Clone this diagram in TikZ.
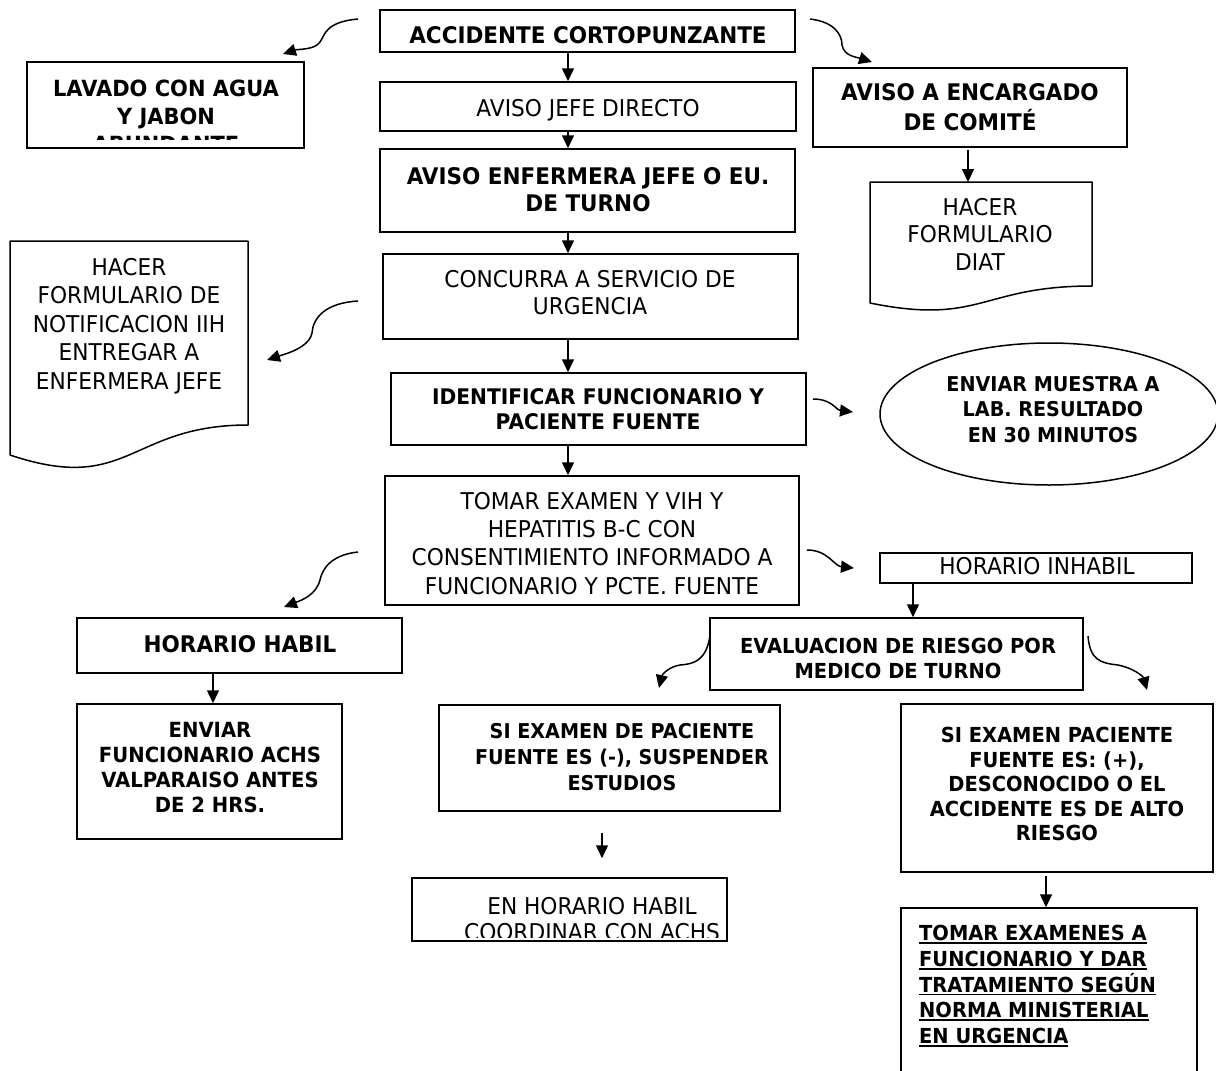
\documentclass[tikz,border=0pt]{standalone}
\usepackage{fontspec}
\setmainfont{DejaVu Sans}[FakeStretch=0.94]
\usetikzlibrary{arrows.meta,fit,calc,shapes.geometric}
\newsavebox\ulbox
\newcommand\ulx[1]{\sbox\ulbox{#1}\rlap{\rule[-3.2pt]{\wd\ulbox}{1.8pt}}\usebox\ulbox}
\tikzset{
  box/.style={draw, line width=1.5pt, inner sep=0pt},
  txt/.style={inner sep=0pt, align=center, anchor=north},
  reg/.style={font=\fontsize{23.1}{28}\selectfont},
  bigb/.style={font=\fontsize{22.9}{27}\selectfont\bfseries},
  smb/.style={font=\fontsize{20.9}{25}\selectfont\bfseries},
  arr/.style={line width=1.5pt, -{Triangle[length=13pt,width=12pt]}},
  docshape/.style={draw, line width=1.5pt, line join=round}
}
\begin{document}
\begin{tikzpicture}[x=1pt,y=-1pt]
\useasboundingbox (0,0) rectangle (1216,1071);
\fill[white] (0,0) rectangle (1216,1071);

% ---- central column boxes
\node[box, fit={(380,10) (795,52)}] (acc) {};
\node[txt, bigb] (tacc) at (588,26) {ACCIDENTE CORTOPUNZANTE};
\node[box, fit={(380,82) (796,131)}] (jefe) {};
\node[txt, reg] (tjefe) at (588,99) {AVISO JEFE DIRECTO};
\node[box, fit={(380,149) (795,232)}] (enf) {};
\node[txt, bigb] (tenf) at (588,167) {AVISO ENFERMERA JEFE O EU.\\DE TURNO};
\node[box, fit={(383,254) (798,339)}] (conc) {};
\node[txt, font=\fontsize{23.1}{27}\selectfont] (tconc) at (590,270) {CONCURRA A SERVICIO DE\\URGENCIA};
\node[box, fit={(391,373) (806,445)}] (ident) {};
\node[txt, font=\fontsize{21.5}{25}\selectfont\bfseries] (tident) at (598,388) {IDENTIFICAR FUNCIONARIO Y\\PACIENTE FUENTE};
\node[box, fit={(385,476) (799,605)}] (tomar) {};
\node[txt, font=\fontsize{23.1}{28.3}\selectfont] (ttomar) at (592,492) {TOMAR EXAMEN Y VIH Y\\HEPATITIS B-C CON\\CONSENTIMIENTO INFORMADO A\\FUNCIONARIO Y PCTE. FUENTE};

% ---- top left
\node[box, fit={(27,62) (304,148)}] (lav) {};
\begin{scope}
\clip (27,62) rectangle (304,139);
\node[txt, font=\fontsize{22.3}{28}\selectfont\bfseries] (tlav) at (166,80) {LAVADO CON AGUA\\Y JABON\\ABUNDANTE};
\end{scope}

% ---- top right
\node[box, fit={(813,68) (1127,147)}] (encarg) {};
\node[txt, font=\fontsize{22.9}{30}\selectfont\bfseries] (tencarg) at (970,83) {AVISO A ENCARGADO\\DE COMITÉ};
\draw[docshape] (870,182) -- (1092,182) -- (1092,286) .. controls (981,286) and (981,325.6) .. (870,303) -- cycle;
\coordinate (diattop) at (968,182);
\node[txt, font=\fontsize{23.1}{27.5}\selectfont] (tdiat) at (980,198) {HACER\\FORMULARIO\\DIAT};

% ---- left document
\draw[docshape] (10,241) -- (248,241) -- (248,425) .. controls (129,425) and (129,495) .. (10,455) -- cycle;
\node[txt, font=\fontsize{23.1}{28.5}\selectfont] (tnotif) at (129,258) {HACER\\FORMULARIO DE\\NOTIFICACION IIH\\ENTREGAR A\\ENFERMERA JEFE};

% ---- ellipse
\node[draw, ellipse, line width=1.5pt, minimum width=338pt, minimum height=142pt, inner sep=0pt] (lab) at (1049,414) {};
\node[txt, font=\fontsize{20.4}{25.5}\selectfont\bfseries] (tlab) at (1053,376) {ENVIAR MUESTRA A\\LAB. RESULTADO\\EN 30 MINUTOS};

% ---- lower left
\node[box, fit={(77,618) (402,673)}] (habil) {};
\node[txt, bigb] (thabil) at (240,635) {HORARIO HABIL};
\node[box, fit={(77,704) (342,839)}] (enviar) {};
\node[txt, smb] (tenviar) at (210,722) {ENVIAR\\FUNCIONARIO ACHS\\VALPARAISO ANTES\\DE 2 HRS.};

% ---- lower right
\node[box, fit={(880,553) (1192,583)}] (inhabil) {};
\node[txt, reg] (tinhabil) at (1037,557) {HORARIO INHABIL};
\node[box, fit={(710,618) (1083,690)}] (eval) {};
\node[txt, font=\fontsize{20.7}{25}\selectfont\bfseries] (teval) at (898,638) {EVALUACION DE RIESGO POR\\MEDICO DE TURNO};
\node[box, fit={(439,705) (780,811)}] (sineg) {};
\node[txt, font=\fontsize{20.4}{26}\selectfont\bfseries] (tsineg) at (622,723) {SI EXAMEN DE PACIENTE\\FUENTE ES (-), SUSPENDER\\ESTUDIOS};
\node[box, fit={(412,878) (727,941)}] (enhor) {};
\begin{scope}
\clip (412,878) rectangle (727,937);
\node[txt, font=\fontsize{23.1}{26}\selectfont] (tenhor) at (592,897) {EN HORARIO HABIL\\COORDINAR CON ACHS};
\end{scope}
\node[box, fit={(901,704) (1213,872)}] (sipos) {};
\node[txt, font=\fontsize{20.7}{24.5}\selectfont\bfseries] (tsipos) at (1057,727) {SI EXAMEN PACIENTE\\FUENTE ES: (+),\\DESCONOCIDO O EL\\ACCIDENTE ES DE ALTO\\RIESGO};
\node[box, fit={(901,908) (1197,1100)}] (tomex) {};
\node[inner sep=0pt, align=left, anchor=north west, font=\fontsize{20.7}{25.8}\selectfont\bfseries] (ttomex) at (919,925) {\ulx{TOMAR EXAMENES A}\\\ulx{FUNCIONARIO Y DAR}\\\ulx{TRATAMIENTO SEGÚN}\\\ulx{NORMA MINISTERIAL}\\\ulx{EN URGENCIA}};

% ---- straight connectors
\coordinate (c1) at (568,0);
\draw[arr] (acc.south -| c1) -- (jefe.north -| c1);
\draw[arr] (jefe.south -| c1) -- (enf.north -| c1);
\draw[arr] (enf.south -| c1) -- (conc.north -| c1);
\draw[arr] (conc.south -| c1) -- (ident.north -| c1);
\draw[arr] (ident.south -| c1) -- (tomar.north -| c1);
\coordinate (c2) at (968,0);
\draw[arr] ($(encarg.south -| c2)+(0,2)$) -- (diattop);
\coordinate (c3) at (213,0);
\draw[arr] (habil.south -| c3) -- (enviar.north -| c3);
\coordinate (c4) at (913,0);
\draw[arr] (inhabil.south -| c4) -- (eval.north -| c4);
\coordinate (c5) at (602,0);
\draw[arr] ($(sineg.south -| c5)+(0,21)$) -- ($(enhor.north -| c5)+(0,-19)$);
\coordinate (c6) at (1046,0);
\draw[arr] ($(sipos.south -| c6)+(0,3)$) -- (tomex.north -| c6);

% ---- curved connectors
\coordinate (s1) at (358,19); \coordinate (e1) at (283,54);
\draw[arr] (s1) .. controls (325,22) and (325,35) .. (320,42) .. controls (315,50) and (298,49) .. (e1);
\coordinate (s2) at (810,19); \coordinate (e2) at (872,62);
\draw[arr] (s2) .. controls (835,22) and (842,35) .. (842,45) .. controls (844,56) and (856,57) .. (e2);
\coordinate (s3) at (358,301); \coordinate (e3) at (267,360);
\draw[arr] (s3) .. controls (325,303) and (313,318) .. (312,333) .. controls (309,348) and (285,354) .. (e3);
\coordinate (s4) at (813,399); \coordinate (e4) at (853,412);
\draw[arr] (s4) .. controls (832,399) and (836,410) .. (e4);
\coordinate (s5) at (358,552); \coordinate (e5) at (284,607);
\draw[arr] (s5) .. controls (330,555) and (322,570) .. (320,580) .. controls (316,595) and (302,600) .. (e5);
\coordinate (s6) at (807,550); \coordinate (e6) at (854,568);
\draw[arr] (s6) .. controls (828,550) and (834,566) .. (e6);
\coordinate (s7) at (710,636); \coordinate (e7) at (659,688);
\draw[arr] (s7) .. controls (706,660) and (695,664) .. (680,665) .. controls (668,667) and (662,675) .. (e7);
\coordinate (s8) at (1088,636); \coordinate (e8) at (1147,690);
\draw[arr] (s8) .. controls (1090,660) and (1100,663) .. (1118,665) .. controls (1133,668) and (1143,676) .. (e8);
\end{tikzpicture}
\end{document}
